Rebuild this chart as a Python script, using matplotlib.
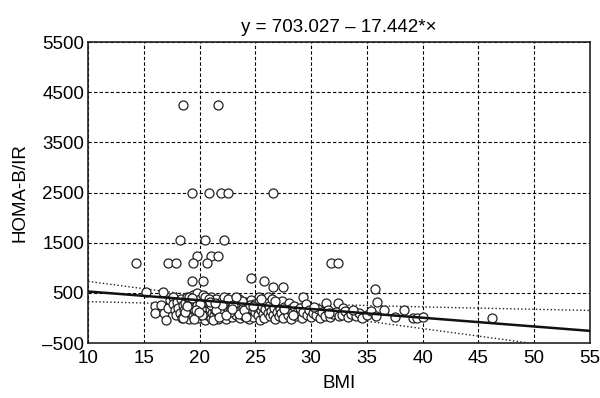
import numpy as np
import matplotlib.pyplot as plt

plt.rcParams['font.family'] = ['Liberation Sans', 'DejaVu Sans']

# regression coefficients, as printed above the chart
intercept = 703.027
slope = -17.442

# high / isolated points
bmi_out = [18.5, 21.6, 19.3, 20.8, 21.9, 22.5, 26.6, 18.2, 20.5, 22.2,
           19.8, 21.0, 21.6, 14.3, 17.2, 17.9, 19.4, 20.7, 31.8, 32.4,
           19.3, 20.3, 24.6, 25.8, 26.6, 27.5, 35.7, 35.9, 15.2, 16.7,
           16.0, 16.0, 25.3, 26.1, 29.3, 31.3, 32.4, 32.9, 36.5, 38.3,
           37.5, 39.1, 39.5, 40.0, 46.2]
homa_out = [4250, 4250, 2500, 2500, 2500, 2500, 2500, 1560, 1560, 1560,
            1230, 1230, 1230, 1100, 1100, 1100, 1100, 1100, 1100, 1100,
            740, 740, 800, 740, 620, 620, 580, 320, 520, 520,
            240, 100, 420, 420, 420, 300, 300, 200, 160, 160,
            20, 0, 0, 20, 0]

# dense cluster near the bottom
bmi_main = [16.5, 16.8, 17.0, 17.2, 17.3, 17.6, 17.6, 17.8, 17.9, 18.0,
            18.1, 18.2, 18.3, 18.4, 18.5, 18.6, 18.7, 18.8, 18.9, 19.0,
            19.0, 19.1, 19.2, 19.3, 19.4, 19.4, 19.5, 19.6, 19.7, 19.8,
            19.8, 19.9, 20.0, 20.0, 20.1, 20.2, 20.3, 20.3, 20.4, 20.5,
            20.5, 20.6, 20.7, 20.8, 20.9, 21.0, 21.0, 21.1, 21.2, 21.3,
            21.3, 21.4, 21.5, 21.6, 21.7, 21.8, 21.9, 22.0, 22.0, 22.1,
            22.2, 22.3, 22.4, 22.5, 22.6, 22.7, 22.8, 22.9, 23.0, 23.0,
            23.2, 23.3, 23.4, 23.5, 23.6, 23.7, 23.8, 23.9, 24.0, 24.1,
            24.2, 24.3, 24.4, 24.5, 24.6, 24.7, 24.8, 24.9, 25.0, 25.1,
            25.2, 25.3, 25.4, 25.5, 25.6, 25.7, 25.8, 25.9, 26.0, 26.1,
            26.2, 26.3, 26.4, 26.5, 26.6, 26.7, 26.8, 26.9, 27.0, 27.1,
            27.2, 27.3, 27.4, 27.5, 27.6, 27.8, 27.9, 28.0, 28.1, 28.2,
            28.3, 28.5, 28.6, 28.8, 28.9, 29.0, 29.2, 29.3, 29.5, 29.6,
            29.8, 30.0, 30.2, 30.4, 30.6, 30.8, 31.0, 31.2, 31.5, 31.7,
            32.0, 32.2, 32.5, 32.8, 33.0, 33.3, 33.6, 34.0, 34.3, 34.6,
            35.0, 35.4, 35.8,
            18.5, 19.0, 19.5, 20.0, 20.5, 21.0, 21.5, 22.0, 22.5, 23.0,
            23.5, 24.0, 24.5, 21.2, 20.8, 19.7, 22.7, 23.8, 18.7, 20.2,
            21.7, 19.3, 20.9, 22.4, 23.3, 24.2, 18.9, 21.4, 22.9, 19.9,
            25.5, 26.8, 28.4, 27.6, 24.8, 30.3, 31.6, 33.8]
homa_main = [250, 100, -30, 200, 350, 420, 280, 150, 60, 320,
             200, 100, 380, 10, 250, 150, 300, 60, 420, 200,
             -20, 330, 100, 250, 30, 450, 170, 350, 80, 260,
             500, 0, 190, 380, 100, 300, 30, 450, 220, 130,
             -30, 350, 60, 270, 180, 420, 0, 100, 320, 220,
             50, 150, 380, -20, 260, 90, 190, 330, 30, 130,
             420, 250, -10, 170, 80, 300, 200, 20, 350, 120,
             240, 60, 160, 380, 0, 280, 100, 200, 40, 320,
             140, 230, -20, 90, 360, 180, 20, 280, 120, 200,
             50, 320, -30, 150, 240, 70, 10, 180, 300, 100,
             230, 30, 140, 380, 60, 200, -10, 120, 270, 40,
             170, 90, 330, 10, 220, 130, 50, 300, 180, -20,
             100, 240, 30, 150, 70, 200, 0, 120, 270, 50,
             150, 20, 100, 60, 180, 0, 110, 40, 150, 20,
             80, 120, 40, 60, 130, 20, 80, 40, 100, 10,
             60, 140, 40,
             0, 420, -10, 280, 420, 250, 150, 250, 370, 250,
             80, 150, 260, -40, 370, 160, 120, 330, 110, 60,
             20, 390, 310, 60, 410, 20, 230, 290, 180, 120,
             380, 330, 60, 170, 240, 210, 90, 150]

bmi = np.array(bmi_out + bmi_main)
homa = np.array(homa_out + homa_main)

# 95% confidence band around the fitted line
n = len(bmi)
resid = homa - (intercept + slope * bmi)
s = np.sqrt(np.sum(resid ** 2) / (n - 2))
xbar = bmi.mean()
sxx = np.sum((bmi - xbar) ** 2)
xs = np.linspace(10, 55, 200)
fit = intercept + slope * xs
half = 1.97 * s * np.sqrt(1 / n + (xs - xbar) ** 2 / sxx)

fig = plt.figure(figsize=(6, 3.98), dpi=100)
ax = fig.add_axes([0.147, 0.138, 0.836, 0.756])

ax.plot(bmi, homa, 'o', markersize=6.5, markerfacecolor='white',
        markeredgecolor='#222222', markeredgewidth=0.9, zorder=3)
ax.plot(xs, fit, '-', color='#111111', linewidth=1.8, zorder=4)
ax.plot(xs, fit + half, ':', color='#222222', linewidth=1.0, zorder=2)
ax.plot(xs, fit - half, ':', color='#222222', linewidth=1.0, zorder=2)

ax.set_xlim(10, 55)
ax.set_ylim(-500, 5500)
ax.set_xticks(np.arange(10, 56, 5))
ax.set_yticks(np.arange(-500, 5501, 1000))
ax.set_yticklabels([str(v).replace('-', '\u2013') for v in range(-500, 5501, 1000)])
ax.grid(True, color='black', linestyle=(0, (3, 2)), linewidth=0.8)
ax.set_axisbelow(True)
ax.tick_params(length=0, labelsize=13.5)
ax.tick_params(axis='y', pad=3)
ax.tick_params(axis='x', pad=5)
for sp in ax.spines.values():
    sp.set_linewidth(1.2)
    sp.set_color('#222222')

ax.set_xlabel('BMI', fontsize=13.5, labelpad=6)
ax.set_ylabel('HOMA-B/IR', fontsize=13.5, labelpad=10)
ax.set_title('y = 703.027 \u2013 17.442*\u00d7', fontsize=13.5, pad=7)

fig.savefig('out.png', dpi=100)
